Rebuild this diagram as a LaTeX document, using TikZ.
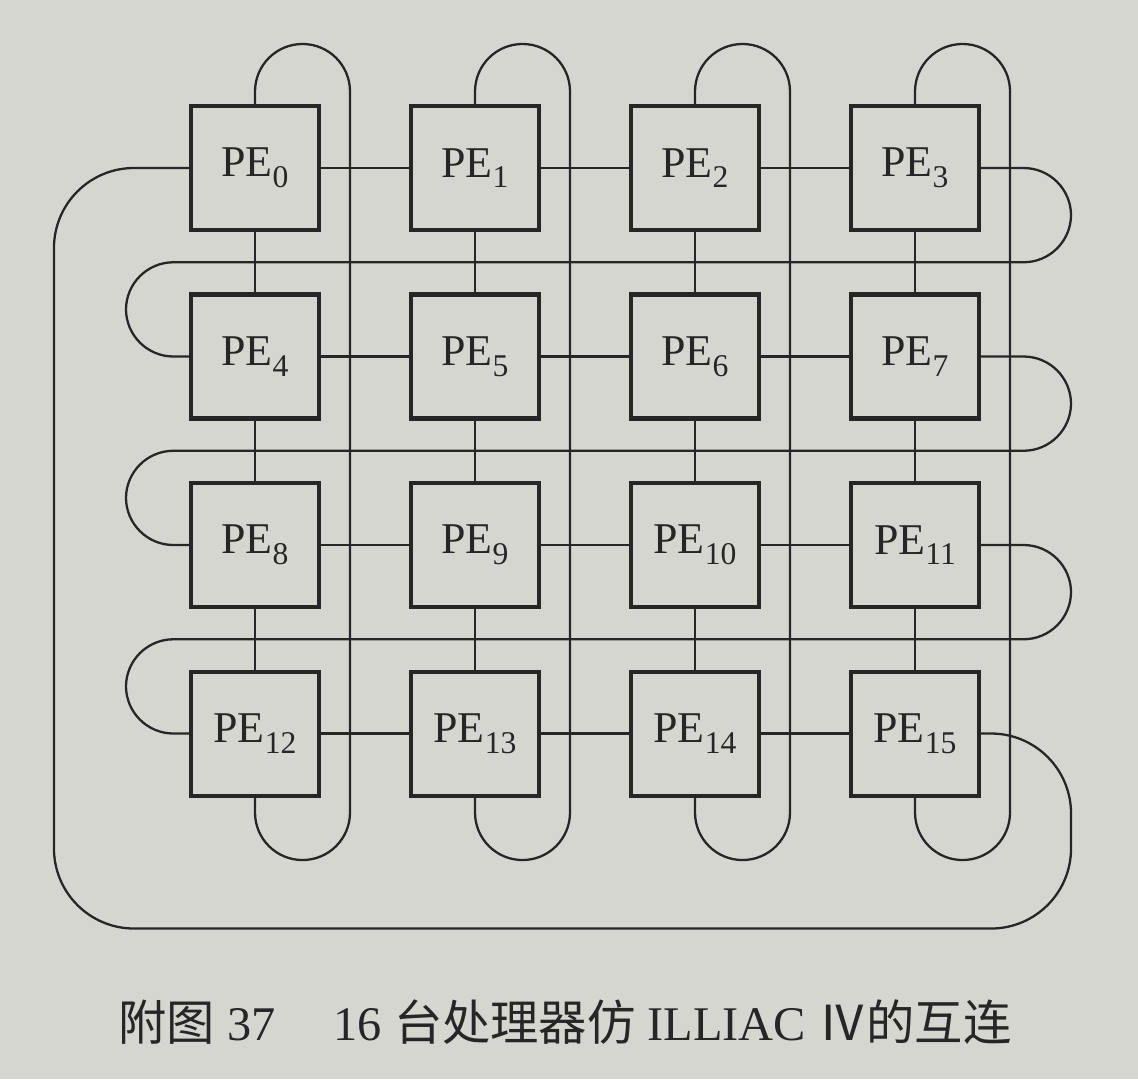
\documentclass[tikz,border=0pt]{standalone}
\usepackage{fontspec}
\setmainfont{Liberation Serif}
\newfontfamily\cjk{Noto Sans CJK SC}
\usetikzlibrary{calc}
\definecolor{paper}{RGB}{214,214,209}
\definecolor{ink}{RGB}{38,38,38}
\newcommand{\pe}[1]{PE\raisebox{-6pt}{\fontsize{18}{20}\selectfont #1}}

\begin{document}
\begin{tikzpicture}[
    pebox/.style={draw=ink, line width=2.3pt, minimum width=2.56cm, minimum height=2.48cm, inner sep=0pt, font=\fontsize{25}{30}\selectfont, text=ink},
    link/.style={draw=ink, line width=1.3pt},
    loopline/.style={link, rounded corners=0.95cm}
]
    % page
    \fill[paper] (0,0) rectangle (22.76,-21.58);
    \useasboundingbox (0,0) rectangle (22.76,-21.58);

    % processing elements, 4 x 4
    \foreach \row in {0,...,3} {
        \foreach \col in {0,...,3} {
            \pgfmathtruncatemacro{\n}{4*\row+\col}
            \node[pebox] (pe\n) at (5.1+4.4*\col, -3.36-3.77*\row) {\pe{\n}};
        }
    }

    % neighbours in a row
    \foreach \a/\b in {0/1,1/2,2/3,4/5,5/6,6/7,8/9,9/10,10/11,12/13,13/14,14/15}
        \draw[link] (pe\a) -- (pe\b);

    % neighbours in a column
    \foreach \a in {0,...,11} {
        \pgfmathtruncatemacro{\b}{\a+4}
        \draw[link] (pe\a) -- (pe\b);
    }

    % column wrap-around
    \foreach \a in {0,...,3} {
        \pgfmathtruncatemacro{\b}{\a+12}
        \draw[loopline] (pe\a.north) -- ++(0,1.2) -| ($(pe\b.south)+(1.9,-1.25)$) -| (pe\b.south);
    }

    % row end to next row start
    \foreach \a/\b in {3/4,7/8,11/12}
        \draw[loopline] (pe\a.east) -| ++(1.8,-1.885) -- ($(pe\b.west)+(-1.26,1.885)$) |- (pe\b.west);

    % PE15 back to PE0
    \draw[link, rounded corners=1.6cm] (pe15.east) -| ($(pe15.east)+(1.8,-3.9)$) -| ($(pe0.west)+(-2.7,0)$) -- (pe0.west);

    % caption
    \node[text=ink, font=\fontsize{27.5}{32}\selectfont] (caption) at (11.3,-20.45)
        {{\cjk 附图} 37\hspace{1.2em}16 {\cjk 台处理器仿} ILLIAC {\cjk Ⅳ的互连}};
\end{tikzpicture}
\end{document}
